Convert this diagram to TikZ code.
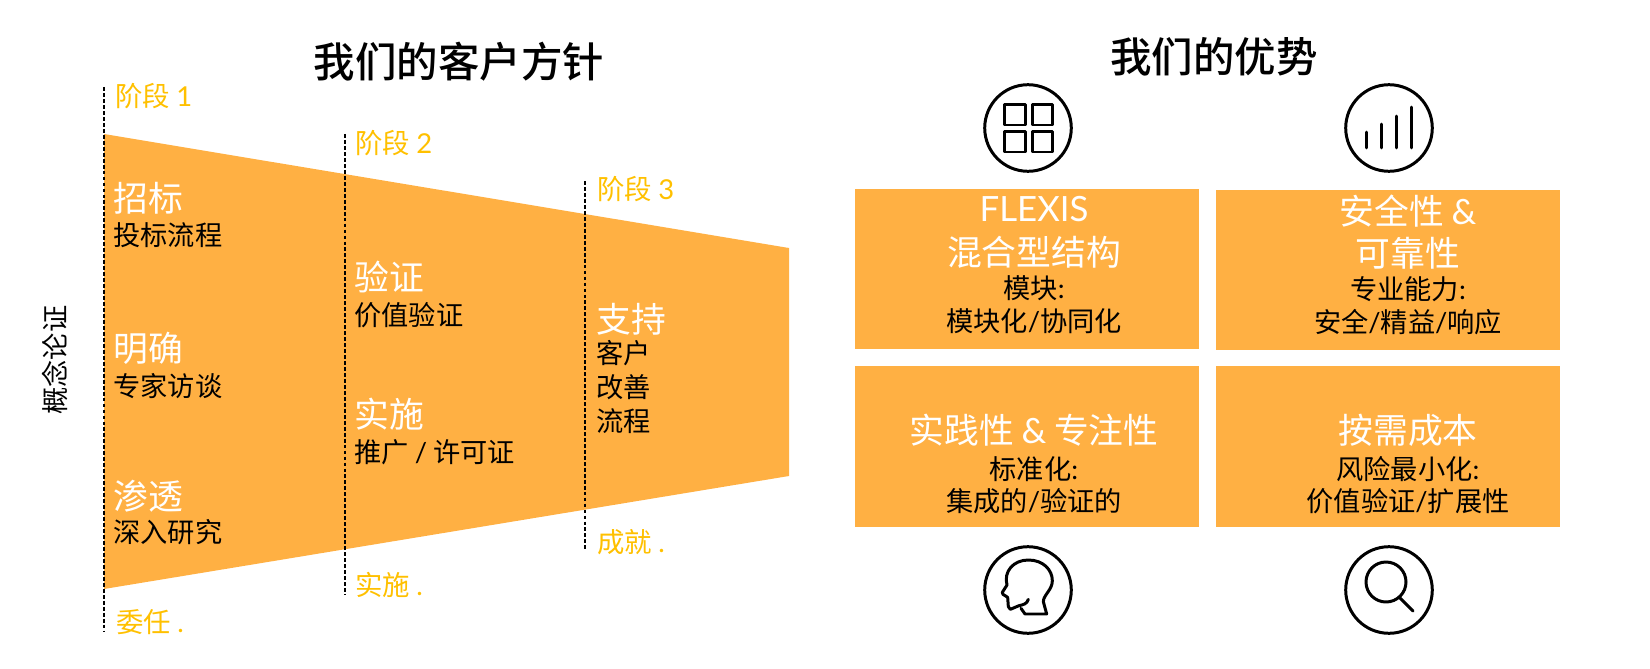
\documentclass[tikz,border=0pt]{standalone}
\usepackage{fontspec}
\setmainfont{Noto Sans CJK SC}
\newfontfamily\latinfont{Lato}
\newfontfamily\titlefont{Noto Sans CJK SC Medium}
\newcommand{\lat}[1]{{\latinfont #1}}
\definecolor{funnelorange}{HTML}{FFB043}
\definecolor{stagegold}{HTML}{FFC000}
\tikzset{
  titletext/.style={font=\fontsize{23.6pt}{28pt}\titlefont,black},
  stagetext/.style={anchor=west,inner sep=0pt,font=\fontsize{15.6pt}{18pt}\selectfont,stagegold},
  headtext/.style={anchor=west,inner sep=0pt,font=\fontsize{19.8pt}{23pt}\selectfont,white},
  subtext/.style={anchor=west,inner sep=0pt,font=\fontsize{15.5pt}{18pt}\selectfont,black},
  boxhead/.style={inner sep=0pt,font=\fontsize{19.8pt}{23pt}\selectfont,white},
  boxsub/.style={inner sep=0pt,font=\fontsize{15.5pt}{18pt}\selectfont,black},
  stageline/.style={black,line width=0.65pt,dash pattern=on 2.2pt off 1.2pt},
  iconline/.style={black,line width=1.7pt,line cap=round,line join=round},
}
\begin{document}
\begin{tikzpicture}[x=0.02cm,y=-0.02cm]
        \useasboundingbox (0,0) rectangle (1650,669);
        % funnel
        \fill[funnelorange] (104,134) -- (789,248) -- (789,476) -- (104,589) -- cycle;
        % stage lines
        \foreach \nm/\x/\ya/\yb in {one/104/87/631,two/345/134/595,three/585/181/549} {
            \coordinate (\nm top) at (\x,\ya);
            \coordinate (\nm bot) at (\x,\yb);
            \draw[stageline] (\nm top) -- (\nm bot);
        }
        \node[titletext] (lefttitle) at (459,62) {我们的客户方针};
        \node[titletext] (righttitle) at (1214,57) {我们的优势};
        \node[rotate=90,inner sep=0pt,font=\fontsize{15.5pt}{18pt}\selectfont] (proof) at (55,360) {概念论证};
        % stage labels
        \foreach \nm/\x/\y/\txt in {s1/115/96/{阶段 \lat{1}},s2/355/143/{阶段 \lat{2}},s3/597/189/{阶段 \lat{3}},
            e1/116/622/{委任 \lat{.}},e2/355/585/{实施 \lat{.}},e3/597/542/{成就 \lat{.}}}
            \node[stagetext] (\nm) at (\x,\y) {\txt};
        % funnel text
        \foreach \nm/\x/\y/\txt in {zb/113/198/招标,mq/113/348/明确,st/113/496/渗透,yz/354/277/验证,ss/354/414/实施,zc/596/319/支持}
            \node[headtext] (\nm) at (\x,\y) {\txt};
        \foreach \nm/\x/\y/\txt in {tb/113/235/投标流程,zj/113/386/专家访谈,sr/113/532/深入研究,jz/354/315/价值验证,
            tg/354/452/{推广\ \lat{/}\ 许可证},kh/596/353/客户,gs/596/387/改善,lc/596/421/流程}
            \node[subtext] (\nm) at (\x,\y) {\txt};
        % boxes
        \foreach \nm/\xa/\ya/\xb/\yb in {boxa/855/189/1199/349,boxb/1216/190/1560/350,boxc/855/366/1199/527,boxd/1216/366/1560/527}
            \fill[funnelorange] (\xa,\ya) rectangle (\xb,\yb);
        \foreach \nm/\x/\y/\txt in {ba/1034/209/\lat{FLEXIS},bb/1034/252/混合型结构,bc/1408/211/{安全性 \lat{\&}},bd/1408/253/可靠性,
            be/1034/430/{实践性 \lat{\&} 专注性},bf/1408/430/按需成本}
            \node[boxhead] (\nm) at (\x,\y) {\txt};
        \foreach \nm/\x/\y/\txt in {ta/1034/288/{模块\lat{:}},tb/1034/321/{模块化\lat{/}协同化},tc/1408/289/{专业能力\lat{:}},td/1408/322/{安全\lat{/}精益\lat{/}响应},
            te/1034/469/{标准化\lat{:}},tf/1034/501/{集成的\lat{/}验证的},tg/1408/469/{风险最小化\lat{:}},th/1408/501/{价值验证\lat{/}扩展性}}
            \node[boxsub] (\nm) at (\x,\y) {\txt};
        % icons
        \foreach \x/\y in {1028/128,1389/128,1028/590,1389/590}
            \draw[iconline] (\x,\y) circle[radius=43.3];
        \foreach \x/\y in {1004.5/104.5,1032/104.5,1004.5/131.5,1032/131.5}
            \draw[iconline,line cap=butt] (\x,\y) rectangle +(20.5,20.5);
        \foreach \x/\y in {1366/132,1381/124,1396/116,1411/107}
            \draw[iconline] (\x,\y) -- (\x,148);
        \begin{scope}[shift={(975,540)},scale=1/3]
            \draw[iconline] (160,178) .. controls (156,192) and (145,194) .. (132,197)
                -- (106,208) -- (100,200) -- (98,172) -- (84,163) -- (82,157) -- (96,135)
                .. controls (85,95) and (115,60) .. (160,60)
                .. controls (205,60) and (232,90) .. (232,122)
                .. controls (232,150) and (205,165) .. (205,185)
                -- (215,222) -- (150,222) -- (138,205);
        \end{scope}
        \draw[iconline] (1386,582) circle[radius=20];
        \draw[iconline] (1399,597) -- (1413,611);
\end{tikzpicture}
\end{document}
